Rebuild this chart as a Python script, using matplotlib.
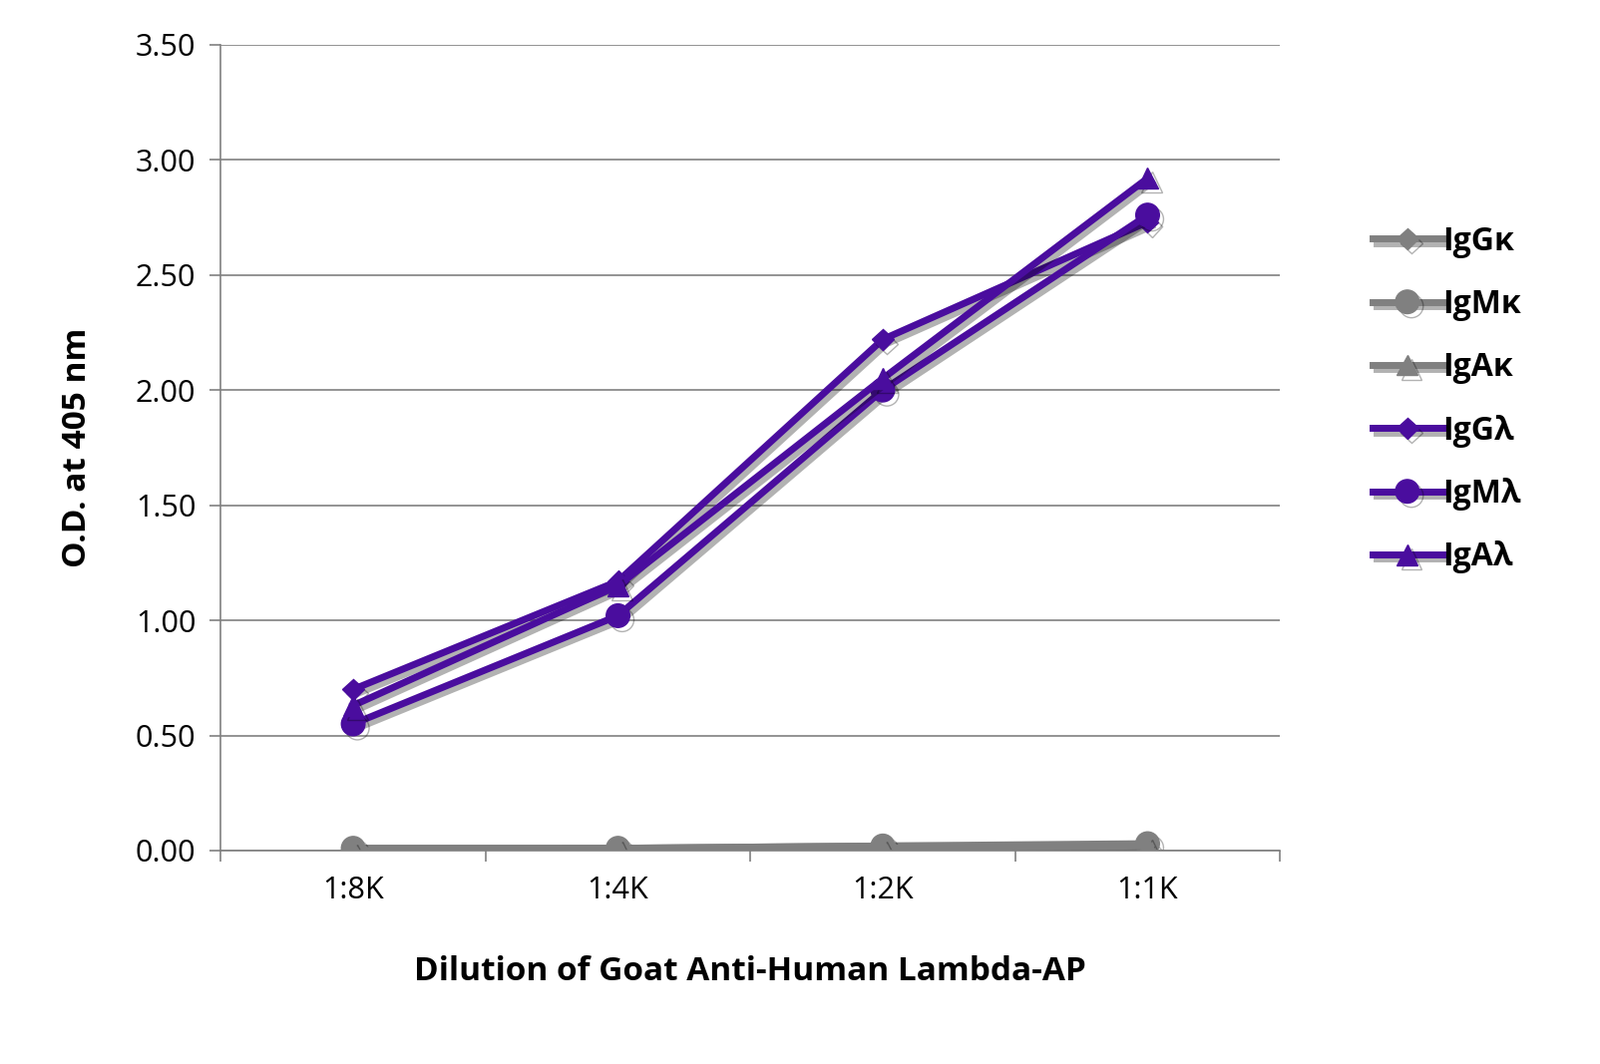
import matplotlib
matplotlib.use("Agg")
import matplotlib.pyplot as plt
import matplotlib.patheffects as pe

plt.rcParams["font.family"] = "Open Sans"

categories = ["1:8K", "1:4K", "1:2K", "1:1K"]
igg_k = [0.01, 0.01, 0.02, 0.02]
igm_k = [0.01, 0.01, 0.02, 0.03]
iga_k = [0.00, 0.01, 0.01, 0.02]
igg_l = [0.70, 1.17, 2.22, 2.73]
igm_l = [0.55, 1.02, 2.00, 2.76]
iga_l = [0.63, 1.15, 2.05, 2.92]

gray = "#808080"
purple = "#4a0d9e"

series = [
    ("IgG\u03ba", igg_k, gray, "D", 11),
    ("IgM\u03ba", igm_k, gray, "o", 17),
    ("IgA\u03ba", iga_k, gray, "^", 15),
    ("IgG\u03bb", igg_l, purple, "D", 11),
    ("IgM\u03bb", igm_l, purple, "o", 17),
    ("IgA\u03bb", iga_l, purple, "^", 15),
]

fig = plt.figure(figsize=(16.04, 10.67), dpi=100)
ax = fig.add_axes([0.138, 0.2006, 0.662, 0.7574])

x = list(range(len(categories)))
shadow = [pe.SimpleLineShadow(offset=(3, -3), alpha=0.3, shadow_color="black"), pe.Normal()]
for name, vals, color, marker, ms in series:
    ax.plot(x, vals, color=color, marker=marker, markersize=ms, linewidth=5,
            label=name, path_effects=shadow)

ax.set_xlim(-0.5, 3.5)
ax.set_ylim(0, 3.5)
ax.set_yticks([0, 0.5, 1, 1.5, 2, 2.5, 3, 3.5])
ax.set_yticklabels([f"{v:.2f}" for v in ax.get_yticks()], fontsize=22)
ax.set_xticks(x)
ax.set_xticklabels(categories, fontsize=22)
ax.tick_params(axis="x", length=0, pad=18)
ax.set_xticks([-0.5, 0.5, 1.5, 2.5, 3.5], minor=True)
ax.tick_params(axis="x", which="minor", length=8, color=gray, width=1.2)
ax.tick_params(axis="y", length=8, color=gray, width=1.2, pad=10)
ax.grid(axis="y", color=gray, linewidth=1.2)
ax.set_axisbelow(True)
for s in ["top", "right"]:
    ax.spines[s].set_visible(False)
for s in ["left", "bottom"]:
    ax.spines[s].set_color(gray)
    ax.spines[s].set_linewidth(1.2)

ax.set_xlabel("Dilution of Goat Anti-Human Lambda-AP", fontsize=24,
              fontweight="bold", labelpad=36)
ax.set_ylabel("O.D. at 405 nm", fontsize=24, fontweight="bold", labelpad=30)

leg = ax.legend(loc="center left", bbox_to_anchor=(1.06, 0.56), frameon=False,
                prop={"size": 23, "weight": "bold"}, handlelength=2.2,
                labelspacing=0.95, handletextpad=0.0)

fig.savefig("out.png", dpi=100)
